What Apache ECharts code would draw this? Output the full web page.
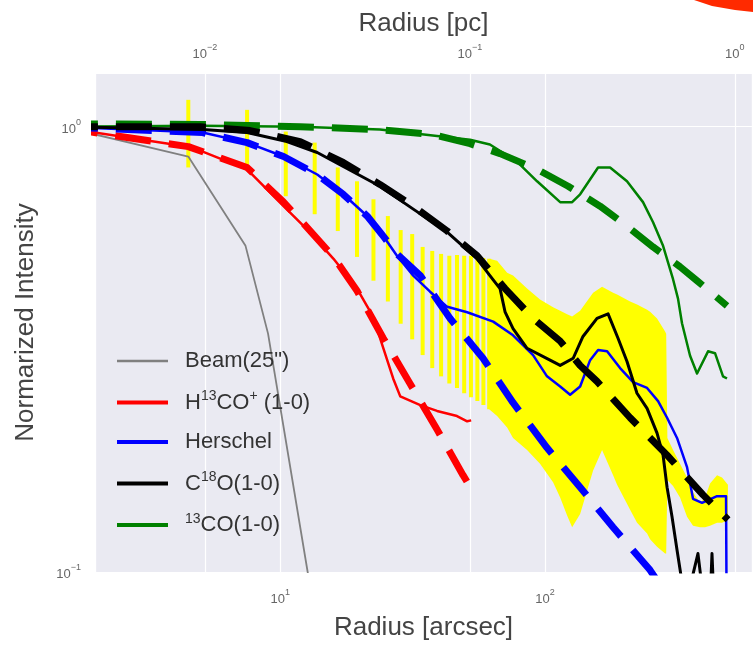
<!DOCTYPE html>
<html>
<head>
<meta charset="utf-8">
<script src="https://cdn.jsdelivr.net/npm/echarts@6/dist/echarts.min.js"></script>
<style>
html,body{margin:0;padding:0;background:#fff;}
#chart{width:753px;height:646px;}
</style>
</head>
<body>
<div id="chart"></div>
<script>
// ---------------- data (radius in arcsec, normalized intensity) ----------------
const beamR = [1.5, 4.5, 7.4, 9.0, 12.7, 13.5];
const beamV = [1.0, 0.857, 0.540, 0.343, 0.100, 0.079];

const redR = [1.5, 4.5, 5.1, 7.5, 10.3, 12.6, 15.9, 19.5, 22.4, 26.7, 28.4, 33.8, 39.1, 46.5, 50.8, 52.6];
const redV = [0.995, 0.902, 0.879, 0.802, 0.663, 0.589, 0.505, 0.433, 0.375, 0.272, 0.248, 0.237, 0.230, 0.224, 0.218, 0.219];
const redFitR = [1.5, 4.5, 7.5, 10.3, 12.6, 15.9, 19.5, 24.5, 30.9, 39.1, 49.0, 54.4];
const redFitV = [0.995, 0.902, 0.810, 0.677, 0.595, 0.510, 0.428, 0.335, 0.265, 0.209, 0.165, 0.149];

const blueR = [1.5, 5.1, 7.5, 10.3, 13.8, 17.3, 21.3, 24.5, 27.6, 31.8, 36.8, 42.7, 50.8, 63.7, 75.7, 90.1, 101.7, 114, 124.3, 135.6, 147.9, 158.5, 171.4, 191.9, 214.8, 242.6, 267, 288.7, 314.8, 343.4, 361.8, 391.3, 445.7, 482, 490.5];
const blueV = [1.0, 0.970, 0.921, 0.857, 0.781, 0.705, 0.630, 0.568, 0.513, 0.463, 0.426, 0.394, 0.383, 0.365, 0.340, 0.307, 0.275, 0.261, 0.250, 0.261, 0.299, 0.315, 0.313, 0.287, 0.267, 0.259, 0.242, 0.222, 0.200, 0.172, 0.146, 0.143, 0.148, 0.148, 0.02];
const blueFitR = [1.5, 5.1, 7.5, 10.3, 13.8, 17.3, 21.3, 24.5, 27.6, 33.8, 43.8, 58.3, 75.7, 101.7, 135.6, 180.6, 249, 283.6];
const blueFitV = [1.0, 0.970, 0.921, 0.857, 0.781, 0.705, 0.630, 0.568, 0.518, 0.463, 0.371, 0.302, 0.240, 0.190, 0.155, 0.126, 0.101, 0.090];

const blackR = [1.5, 5.1, 7.5, 10.6, 13.8, 17.3, 23.8, 31.8, 42.7, 46.5, 55.4, 61.9, 67.6, 70.6, 75.7, 85.5, 104.4, 114, 127.7, 139, 157, 172.9, 188.5, 203.8, 222.3, 242.6, 264.6, 278.8, 288.7, 301.4, 314.8, 326, 340.4, 377.6, 398, 419.4, 426.6, 434.2];
const blackV = [1.0, 0.985, 0.970, 0.926, 0.875, 0.814, 0.735, 0.653, 0.580, 0.554, 0.505, 0.463, 0.433, 0.384, 0.352, 0.318, 0.299, 0.291, 0.302, 0.338, 0.371, 0.380, 0.335, 0.297, 0.252, 0.233, 0.205, 0.183, 0.155, 0.133, 0.112, 0.098, 0.085, 0.110, 0.085, 0.085, 0.110, 0.085];
const blackFitR = [1.5, 5.0, 7.7, 11.9, 17.3, 23.8, 31.8, 42.7, 55.4, 70.6, 90.1, 114, 135.6, 157, 209.4, 288.7, 394.7, 490.4];
const blackFitV = [1.0, 1.0, 0.980, 0.926, 0.831, 0.742, 0.663, 0.583, 0.513, 0.433, 0.371, 0.330, 0.291, 0.268, 0.222, 0.183, 0.149, 0.131];

const greenR = [1.5, 5.0, 11.9, 23.8, 52.1, 61.9, 78.3, 93.3, 114, 126.5, 135.6, 158.5, 175.9, 203.8, 234.2, 255.6, 278.8, 303.9, 317.5, 328.7, 352.6, 374.6, 412.3, 438, 469.5, 486];
const greenV = [1.0, 1.005, 1.0, 0.985, 0.935, 0.912, 0.835, 0.754, 0.677, 0.677, 0.705, 0.810, 0.810, 0.754, 0.677, 0.610, 0.540, 0.455, 0.411, 0.362, 0.306, 0.279, 0.313, 0.310, 0.275, 0.272];
const greenFitR = [1.5, 5.0, 11.9, 23.8, 37.8, 52.1, 67.6, 93.3, 122.2, 161.3, 203.8, 255.6, 322.7, 374.6, 486];
const greenFitV = [1.015, 1.012, 1.0, 0.985, 0.960, 0.916, 0.870, 0.802, 0.735, 0.663, 0.598, 0.537, 0.485, 0.451, 0.396];

// yellow error bars (individual) and merged error region
const errR  = [4.5, 7.5, 10.5, 13.5, 16.5, 19.5, 22.5, 25.5, 28.5, 31.5, 34.5, 37.5, 40.5, 43.5, 46.5, 49.5, 52.5, 55.5, 58.5, 61.5];
const errHi = [1.149, 1.091, 0.975, 0.921, 0.810, 0.754, 0.687, 0.630, 0.586, 0.574, 0.537, 0.526, 0.518, 0.513, 0.515, 0.513, 0.513, 0.510, 0.507, 0.505];
const errLo = [0.810, 0.810, 0.698, 0.636, 0.583, 0.510, 0.451, 0.405, 0.361, 0.333, 0.307, 0.287, 0.275, 0.265, 0.259, 0.252, 0.247, 0.242, 0.237, 0.232];

const bandR  = [61.5, 65.9, 71.9, 75.7, 85.5, 95.7, 107.2, 114.0, 121.1, 126.5, 135.6, 151.8, 164.1, 180.6, 187.0, 209.4, 222.4, 242.7, 249.1, 264.6, 283.8, 286.5, 289.5, 304.1, 323.1, 343.4, 361.8, 384.5, 401.6, 419.4, 445.8, 465.5, 490];
const bandHi = [0.505, 0.500, 0.470, 0.463, 0.433, 0.409, 0.393, 0.386, 0.379, 0.375, 0.386, 0.424, 0.437, 0.424, 0.420, 0.405, 0.399, 0.388, 0.384, 0.371, 0.347, 0.343, 0.200, 0.188, 0.175, 0.163, 0.151, 0.143, 0.147, 0.158, 0.165, 0.163, 0.157];
const bandLo = [0.232, 0.224, 0.211, 0.200, 0.188, 0.175, 0.159, 0.147, 0.134, 0.126, 0.135, 0.169, 0.188, 0.165, 0.157, 0.138, 0.129, 0.122, 0.1185, 0.114, 0.110, 0.110, 0.161, 0.156, 0.147, 0.133, 0.127, 0.126, 0.126, 0.127, 0.129, 0.129, 0.131];

const legendNames = ['Beam(25")', 'H13CO+(1-0)', 'Herschel', 'C18O(1-0)', '13CO(1-0)'];
const legendRich = {
  'Beam(25")': '{n|Beam(25")}',
  'H13CO+(1-0)': '{n|H}{s|13}{n|CO}{s|+}{n| (1-0)}',
  'Herschel': '{n|Herschel}',
  'C18O(1-0)': '{n|C}{s|18}{n|O(1-0)}',
  '13CO(1-0)': '{s|13}{n|CO(1-0)}'
};

// axis ranges
const xMin = 2, xMax = 604;
const arcsecPerPc = 520;
const yMin = 0.1, yMax = 1.32;

// ---------------- chart ----------------
const FONT = 'Liberation Sans';
function zip(a, b) { return a.map((v, i) => [v, b[i]]); }
function powLabel(v) {
  const e = Math.log10(v);
  const n = Math.round(e);
  if (Math.abs(e - n) > 1e-6) return '';
  const exp = n < 0 ? '\u2212' + (-n) : String(n);
  return '{b|10}{s|' + exp + '}';
}
const tickRich = {
  b: {fontSize: 13, fontFamily: FONT, color: '#666', lineHeight: 18, verticalAlign: 'bottom'},
  s: {fontSize: 9, fontFamily: FONT, color: '#666', lineHeight: 10, verticalAlign: 'top'}
};
const nameStyle = {fontSize: 26, fontFamily: FONT, color: '#444'};

function lineSeries(name, r, v, color, width, dashed, z) {
  return {
    name: name, type: 'line', xAxisIndex: 0, yAxisIndex: 0,
    data: zip(r, v), symbol: 'none', showSymbol: false, smooth: false,
    clip: true, silent: true, animation: false, z: z,
    lineStyle: {color: color, width: width, type: dashed ? [36, 18] : 'solid', cap: 'butt', join: 'round'},
    itemStyle: {color: color}
  };
}

const hiddenSymbol = {color: 'rgba(0,0,0,0)', borderColor: 'rgba(0,0,0,0)', borderWidth: 0, opacity: 0};

const chart = echarts.init(document.getElementById('chart'), null, {renderer: 'canvas'});
chart.setOption({
  animation: false,
  backgroundColor: '#ffffff',
  grid: {left: 95, right: 1, top: 73, bottom: 71, show: true, backgroundColor: '#EAEAF2', borderWidth: 0},
  xAxis: [
    {
      type: 'log', min: xMin, max: xMax, position: 'bottom',
      name: 'Radius [arcsec]', nameLocation: 'middle', nameGap: 43, nameTextStyle: nameStyle,
      axisLine: {show: false}, axisTick: {show: false},
      axisLabel: {formatter: powLabel, rich: tickRich, margin: 16, showMinLabel: false, showMaxLabel: false},
      splitLine: {show: true, lineStyle: {color: '#ffffff', width: 1.2}}
    },
    {
      type: 'log', min: xMin / arcsecPerPc, max: xMax / arcsecPerPc, position: 'top',
      name: 'Radius [pc]', nameLocation: 'middle', nameGap: 36, nameTextStyle: nameStyle,
      axisLine: {show: false}, axisTick: {show: false},
      axisLabel: {formatter: powLabel, rich: tickRich, margin: 12, showMinLabel: false, showMaxLabel: false},
      splitLine: {show: true, lineStyle: {color: '#ffffff', width: 1.2}}
    }
  ],
  yAxis: {
    type: 'log', min: yMin, max: yMax,
    name: 'Normarized Intensity', nameLocation: 'middle', nameGap: 56, nameTextStyle: nameStyle,
    axisLine: {show: false}, axisTick: {show: false},
    axisLabel: {formatter: powLabel, rich: tickRich, margin: 14, showMaxLabel: false},
    splitLine: {show: true, lineStyle: {color: '#ffffff', width: 1.2}}
  },
  legend: {
    orient: 'vertical', left: 115, top: 350, padding: 0,
    itemWidth: 51, itemHeight: 14, itemGap: 17.5,
    itemStyle: hiddenSymbol,
    data: [
      {name: legendNames[0], lineStyle: {width: 2.5}, itemStyle: hiddenSymbol},
      {name: legendNames[1], lineStyle: {width: 4}, itemStyle: hiddenSymbol},
      {name: legendNames[2], lineStyle: {width: 4}, itemStyle: hiddenSymbol},
      {name: legendNames[3], lineStyle: {width: 4}, itemStyle: hiddenSymbol},
      {name: legendNames[4], lineStyle: {width: 4}, itemStyle: hiddenSymbol}
    ],
    formatter: function (n) { return legendRich[n] || n; },
    textStyle: {
      padding: [0, 0, 0, 12],
      rich: {
        n: {fontSize: 22, fontFamily: FONT, color: '#333', lineHeight: 26, verticalAlign: 'middle'},
        s: {fontSize: 14, fontFamily: FONT, color: '#333', lineHeight: 16, verticalAlign: 'top'}
      }
    },
    selectedMode: false
  },
  graphic: [{
    type: 'polygon', silent: true,
    shape: {points: [[694, 0], [753, 0], [753, 12], [735, 10], [712, 6]]},
    style: {fill: '#ff2a00'}
  }],
  series: [
    {
      name: 'errbars', type: 'custom', xAxisIndex: 0, yAxisIndex: 0, z: 1, silent: true, clip: true,
      data: errR.map((r, i) => [r, errLo[i], errHi[i]]),
      encode: {x: 0, y: [1, 2]},
      renderItem: function (params, api) {
        const r = api.value(0);
        const p1 = api.coord([r, api.value(2)]);
        const p2 = api.coord([r, api.value(1)]);
        return {type: 'rect', shape: {x: p1[0] - 2, y: p1[1], width: 4, height: p2[1] - p1[1]}, style: {fill: '#ffff00'}};
      }
    },
    {
      name: 'errband', type: 'custom', xAxisIndex: 0, yAxisIndex: 0, z: 1, silent: true, clip: true,
      data: bandR.map((r, i) => [r, bandLo[i], bandHi[i]]),
      encode: {x: 0, y: [1, 2]},
      renderItem: function (params, api) {
        if (params.dataIndex !== 0) return null;
        const up = bandR.map((r, i) => api.coord([r, bandHi[i]]));
        const lo = bandR.map((r, i) => api.coord([r, bandLo[i]])).reverse();
        return {type: 'polygon', shape: {points: up.concat(lo)}, style: {fill: '#ffff00'}};
      }
    },
    lineSeries(legendNames[0], beamR, beamV, '#808080', 1.8, false, 2),
    lineSeries('H13CO+ fit', redFitR, redFitV, '#ff0000', 7, true, 3),
    lineSeries(legendNames[1], redR, redV, '#ff0000', 2.5, false, 4),
    lineSeries('Herschel fit', blueFitR, blueFitV, '#0000ff', 7, true, 5),
    lineSeries(legendNames[2], blueR, blueV, '#0000ff', 2.5, false, 6),
    lineSeries('13CO fit', greenFitR, greenFitV, '#008000', 7, true, 7),
    lineSeries(legendNames[4], greenR, greenV, '#008000', 2.5, false, 8),
    lineSeries('C18O fit', blackFitR, blackFitV, '#000000', 7, true, 9),
    lineSeries(legendNames[3], blackR, blackV, '#000000', 3, false, 10)
  ]
});
</script>
</body>
</html>
